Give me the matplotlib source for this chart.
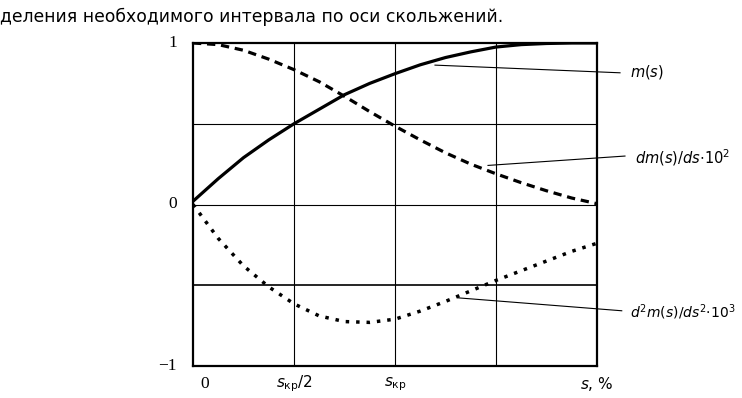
import matplotlib
matplotlib.use("Agg")
import matplotlib.pyplot as plt
import numpy as np

# ---- data (x in units of s_kp/2) ----
x_vals = [0.0, 0.25, 0.5, 0.75, 1.0, 1.25, 1.5, 1.75, 2.0, 2.25, 2.5, 2.75, 3.0, 3.25, 3.5, 3.75, 4.0]
m_vals = [0.02, 0.16, 0.29, 0.40, 0.50, 0.59, 0.68, 0.75, 0.81, 0.865, 0.91, 0.945, 0.975, 0.99, 0.997, 1.0, 1.0]
dm_vals = [1.0, 0.99, 0.955, 0.90, 0.835, 0.76, 0.67, 0.575, 0.485, 0.40, 0.32, 0.25, 0.19, 0.135, 0.085, 0.04, 0.005]
d2m_vals = [0.0, -0.21, -0.38, -0.51, -0.615, -0.69, -0.725, -0.73, -0.71, -0.66, -0.60, -0.535, -0.47, -0.41, -0.35, -0.29, -0.24]

x_tick_pos = [0, 1, 2, 4]
x_tick_labels = ["0", r"$s_{\mathrm{кр}}/2$", r"$s_{\mathrm{кр}}$", r"$s$, %"]
y_tick_pos = [1, 0, -1]
y_tick_labels = ["1", "0", "\u22121"]

title_text = "деления необходимого интервала по оси скольжений."

W, H = 742, 398
fig = plt.figure(figsize=(W / 100, H / 100), dpi=100)
ax = fig.add_axes([193 / W, (H - 366) / H, 404 / W, 323 / H])
ax.set_xlim(0, 4)
ax.set_ylim(-1, 1)

# grid
for gx in [1, 2, 3]:
    ax.axvline(gx, color="black", lw=0.8, zorder=1)
for gy, lw in [(0.5, 0.8), (0.0, 0.8), (-0.5, 1.2)]:
    ax.axhline(gy, color="black", lw=lw, zorder=1)

for sp in ax.spines.values():
    sp.set_linewidth(1.6)

ax.plot(x_vals, m_vals, color="black", lw=2.3, solid_capstyle="butt", zorder=3)
ax.plot(x_vals, dm_vals, color="black", lw=2.3, linestyle=(0, (2.6, 1.8)),
        dash_capstyle="butt", zorder=3)
ax.plot(x_vals, d2m_vals, color="black", lw=2.5, linestyle=(0, (1, 2.0)),
        dash_capstyle="butt", zorder=3)

# ticks
ax.tick_params(length=0)
ax.set_xticks(x_tick_pos)
ax.set_xticklabels([])
ax.set_yticks(y_tick_pos)
ax.set_yticklabels([])

serif = "Liberation Serif"
for yp, lab in zip(y_tick_pos, y_tick_labels):
    ax.text(-0.16, yp, lab, ha="right", va="center", fontsize=12.5, family=serif,
            clip_on=False)

lab_y = -1.11
ax.text(0.12, lab_y, x_tick_labels[0], ha="center", va="center", fontsize=12.5,
        family=serif, clip_on=False)
for xp, lab in zip(x_tick_pos[1:], x_tick_labels[1:]):
    ax.text(xp, lab_y, lab, ha="center", va="center", fontsize=11, clip_on=False)

# leader lines and labels
leaders = [
    ((2.396, 0.863), (4.228, 0.8155), (4.33, 0.82), r"$m(s)$", 10.5),
    ((2.921, 0.242), (4.277, 0.30), (4.38, 0.29), r"$dm(s)/ds{\cdot}10^2$", 10.5),
    ((2.624, -0.578), (4.245, -0.658), (4.33, -0.665), r"$d^2m(s)/ds^2{\cdot}10^3$", 10.0),
]
for (x0, y0), (x1, y1), (tx, ty), txt, fs in leaders:
    ax.plot([x0, x1], [y0, y1], color="black", lw=0.8, clip_on=False, zorder=2)
    ax.text(tx, ty, txt, ha="left", va="center", fontsize=fs, clip_on=False)

fig.text(0.0, 1 - 22 / H, title_text, ha="left", va="baseline", fontsize=12.4,
         family="DejaVu Sans")

fig.savefig("out.png", dpi=100)
